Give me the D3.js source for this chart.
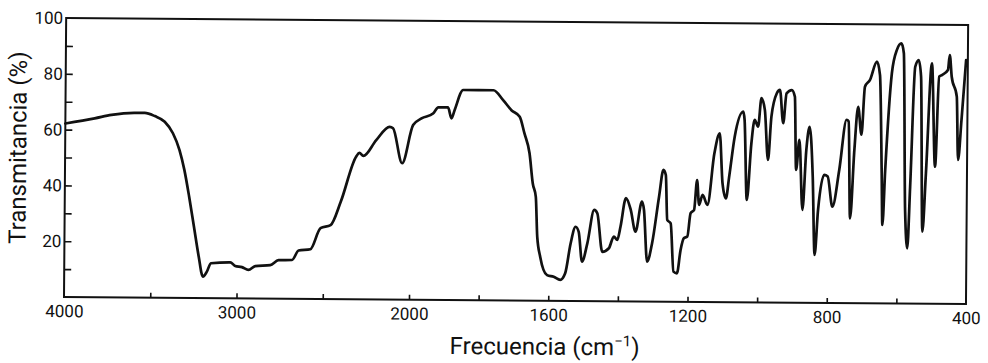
<!DOCTYPE html>
<html><head><meta charset="utf-8">
<script src="https://cdn.jsdelivr.net/npm/d3@7"></script>
<style>
body{margin:0;background:#fff}
svg text{font-family:Roboto,"DejaVu Sans",sans-serif;fill:#111}
</style>
</head><body>
<svg id="c" width="988" height="363"></svg>
<script>
// Wavenumber (cm-1) and transmittance (%)
const wavenumber = [4000,3830,3733,3598,3540,3482,3424,3376,3337,3308,3279,3250,3221,3196,3173,3150,3038,3009,2970,2932,2893,2806,2758,2680,2642,2574,2516,2458,2400,2313,2294,2271,2197,2120,2100,2046,
1992,1968,1935,1920,1892,1882,1873,1849,1762,1734,1710,1686,1672,1657,1647,1638,1633,1624,1604,1585,1566,1552,1537,1523,1514,1504,1489,1470,1461,1446,1427,1413,1403,1394,1379,1365,1351,1333,1327,1317,1303,1284,1272,1265,1260,1250,1241,1231,1221,1212,1202,1193,1183,1175,1169,1159,1145,1126,1111,1102,1092,1083,1068,1044,1040,1032,1020,1011,1001,992,982,972,963,948,939,929,920,905,896,891,882,872,862,853,843,836,827,810,800,786,767,747,741,735,724,714,704,695,681,661,652,645,642,635,618,604,591,584,577,570,563,551,541,534,527,518,503,492,482,474,457,452,446,431,426,417,405];
const transmittance = [62.2,64.1,65.4,66.2,66.2,65.1,63.1,59.0,53.0,45.9,36.3,25.6,14.9,7.7,9.5,12.5,12.9,11.6,11.2,10.2,11.6,12.0,13.8,13.9,17.3,17.8,25.4,26.5,34.9,51.1,52.5,51.4,57.1,61.9,61.4,48.9,
62.6,65.0,66.8,69.0,69.0,65.1,68.1,75.3,75.3,71.8,68.2,65.9,59.9,52.8,42.0,37.2,22.9,15.7,9.2,8.6,7.5,9.9,20.6,26.6,24.8,14.1,20.7,32.7,31.5,17.7,19.0,23.2,22.0,26.8,37.0,32.8,25.0,35.8,32.8,14.3,20.9,37.6,47.2,45.4,29.3,28.1,10.8,10.2,18.6,22.8,23.4,31.8,33.0,43.7,34.8,38.4,34.8,53.3,60.5,42.6,37.2,45.0,59.3,68.3,65.4,36.7,57.0,65.4,63.0,73.2,69.0,51.1,66.6,75.0,76.2,64.3,75.0,76.2,73.8,47.6,58.4,33.3,54.8,63.1,45.2,17.2,33.3,45.9,45.3,34.5,47.7,65.7,65.1,30.4,54.9,70.4,60.4,77.6,80.0,86.6,81.8,46.6,28.1,47.8,82.5,90.9,93.2,89.7,33.5,19.8,41.9,84.9,87.3,81.3,25.8,46.7,86.2,49.1,81.4,82.0,83.8,89.2,81.4,74.3,51.6,65.9,87.4];

const xTickValues = [3500,3000,2500,2000,1800,1600,1400,1200,1000,800,600];
const xTickLabels = [4000,3000,2000,1600,1200,800,400];
const yTickValues = [10,20,30,40,50,60,70,80,90];
const yTickLabels = [20,40,60,80,100];

const mLeft = 64, mRight = 966, mTop = 18, mBottom = 297;
const x = d3.scaleLinear().domain([4000, 2000, 400]).range([mLeft, 409, mRight]);
const y = d3.scaleLinear().domain([0, 100]).range([mBottom, mTop]);

const svg = d3.select('#c');
const g = svg.append('g').attr('transform', `rotate(0.445 ${mLeft} ${mBottom})`);

// ticks inside frame
const xt = g.append('g').attr('transform', `translate(0,${mBottom})`)
  .call(d3.axisBottom(x).tickValues(xTickValues).tickSize(-5).tickFormat(''));
const yt = g.append('g').attr('transform', `translate(${mLeft},0)`)
  .call(d3.axisLeft(y).tickValues(yTickValues).tickSize(-7).tickFormat(''));
[xt, yt].forEach(a => { a.select('.domain').remove(); a.selectAll('line').attr('stroke', '#111').attr('stroke-width', 1.6); });

// tick labels
const xl = g.append('g').attr('transform', `translate(0,${mBottom})`)
  .call(d3.axisBottom(x).tickValues(xTickLabels).tickSize(0).tickPadding(8).tickFormat(d3.format('d')));
const yl = g.append('g').attr('transform', `translate(${mLeft},0)`)
  .call(d3.axisLeft(y).tickValues(yTickLabels).tickSize(0).tickPadding(3).tickFormat(d3.format('d')));
[xl, yl].forEach(a => {
  a.select('.domain').remove();
  a.attr('font-family', null).attr('font-size', 17);
  a.selectAll('text').attr('fill', '#111');
});

// frame
g.append('rect').attr('x', mLeft).attr('y', mTop).attr('width', mRight - mLeft).attr('height', mBottom - mTop)
  .attr('fill', 'none').attr('stroke', '#111').attr('stroke-width', 2);

// spectrum
const data = d3.zip(wavenumber, transmittance);
g.append('path').datum(data)
  .attr('fill', 'none').attr('stroke', '#111').attr('stroke-width', 2.7)
  .attr('stroke-linejoin', 'round').attr('stroke-linecap', 'round')
  .attr('d', d3.line().x(d => x(d[0])).y(d => y(d[1])).curve(d3.curveMonotoneX));

// titles
const xt2 = g.append('text').attr('x', 545).attr('y', 351).attr('text-anchor', 'middle').attr('font-size', 24);
xt2.append('tspan').text('Frecuencia (cm');
xt2.append('tspan').attr('font-size', 15).attr('dy', -9).text('−1');
xt2.append('tspan').attr('dy', 9).text(')');

g.append('text').attr('transform', 'translate(25,148) rotate(-90)').attr('text-anchor', 'middle')
  .attr('font-size', 24).text('Transmitancia (%)');
</script>
</body></html>
